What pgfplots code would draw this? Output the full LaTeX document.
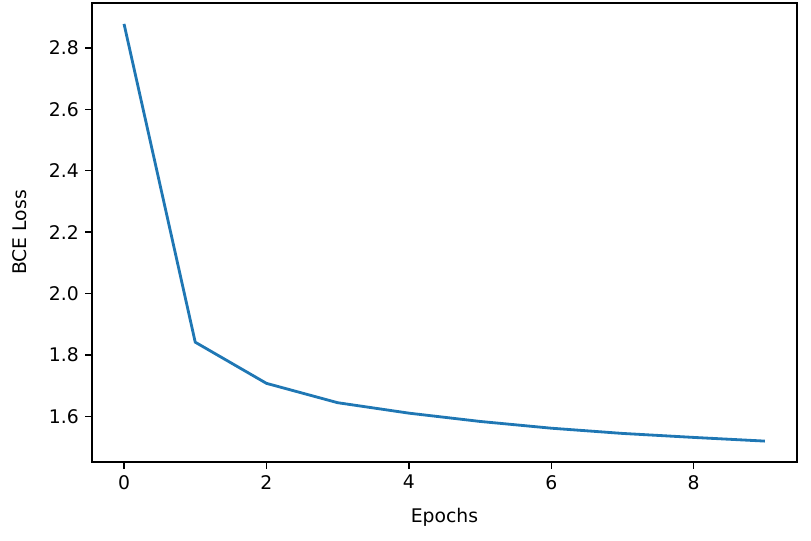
\documentclass[border=0pt]{standalone}
\usepackage{pgfplots}
\pgfplotsset{compat=1.18}
\usepackage{fontspec}
\setmainfont{DejaVu Sans}
\definecolor{mplblue}{HTML}{1F77B4}
\begin{document}
\begin{tikzpicture}
\useasboundingbox (0,0) rectangle (432pt,288pt);
\begin{axis}[
  at={(49pt,41.9pt)}, anchor=south west,
  scale only axis, width=375.5pt, height=244.5pt,
  xmin=-0.45, xmax=9.45, ymin=1.452, ymax=2.946,
  xtick={0,2,4,6,8}, ytick={1.6,1.8,2.0,2.2,2.4,2.6,2.8},
  yticklabel style={/pgf/number format/fixed,/pgf/number format/fixed zerofill,/pgf/number format/precision=1},
  /pgf/number format/assume math mode=true,
  tick align=outside, tick pos=left,
  major tick length=3.5pt,
  every tick/.style={black, line width=0.8pt},
  axis line style={line width=0.8pt},
  tick label style={font=\fontsize{10}{12}\selectfont},
  label style={font=\fontsize{10}{12}\selectfont},
  xlabel={Epochs}, ylabel={BCE Loss},
  xlabel style={at={(axis description cs:0.5,-0.1207)}, anchor=center},
  ylabel style={at={(axis description cs:-0.102,0.5)}, anchor=center},
]
\addplot[mplblue, line width=1.5pt, mark=none] coordinates {
(0,2.878) (1,1.842) (2,1.708) (3,1.645) (4,1.611) (5,1.584) (6,1.562) (7,1.545) (8,1.532) (9,1.520)
};
\end{axis}
\end{tikzpicture}
\end{document}
